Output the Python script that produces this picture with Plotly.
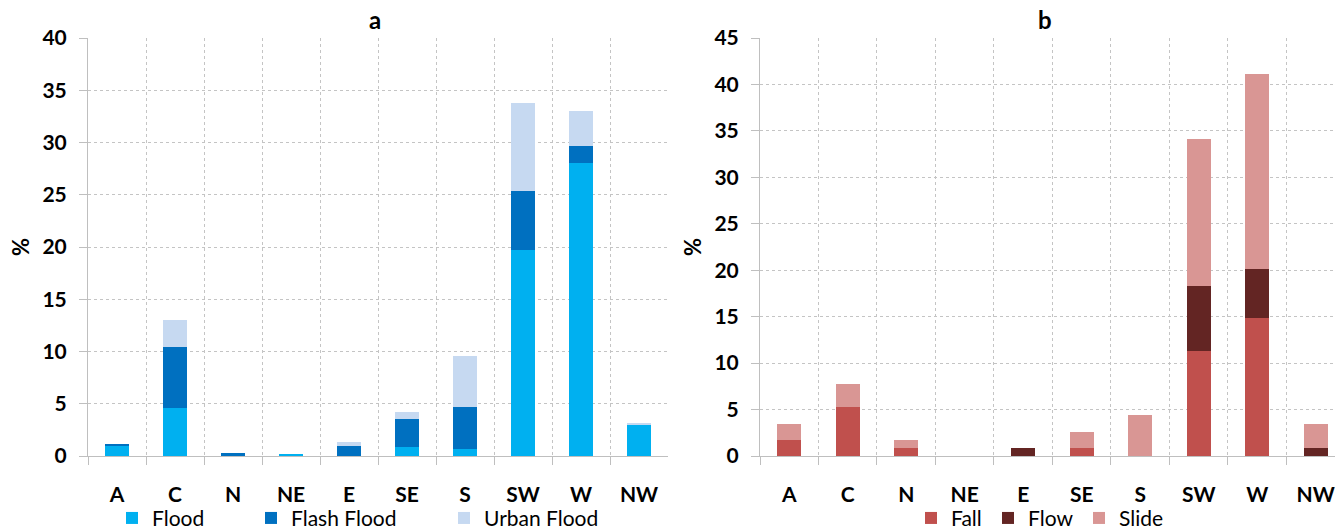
import plotly.graph_objects as go

categories = ["A", "C", "N", "NE", "E", "SE", "S", "SW", "W", "NW"]

flood = [1.0, 4.6, 0.0, 0.1, 0.0, 0.9, 0.7, 19.7, 28.0, 3.0]
flash_flood = [0.1, 5.8, 0.3, 0.0, 1.0, 2.6, 4.0, 5.7, 1.7, 0.0]
urban_flood = [0.0, 2.6, 0.0, 0.0, 0.3, 0.7, 4.9, 8.4, 3.3, 0.2]

fall = [1.7, 5.3, 0.85, 0.0, 0.0, 0.85, 0.0, 11.3, 14.9, 0.0]
flow = [0.0, 0.0, 0.0, 0.0, 0.85, 0.0, 0.0, 7.0, 5.2, 0.85]
slide = [1.7, 2.5, 0.85, 0.0, 0.0, 1.75, 4.4, 15.8, 21.0, 2.55]

FONT = "Lato, 'Open Sans', sans-serif"

W, H = 1335, 532
ml, mr, mt, mb = 0, 0, 38, 76

def px(x):
    return x / W

fig = go.Figure()

left = [("Flood", flood, "#00B0F0", 112), ("Flash Flood", flash_flood, "#0070C0", 251),
        ("Urban Flood", urban_flood, "#C6D9F1", 444)]
right = [("Fall", fall, "#C0504D", 911), ("Flow", flow, "#632523", 988),
         ("Slide", slide, "#D99694", 1079)]

legends = {}
i = 0
for (name, vals, col, lx), (xa, ya) in [(t, ("x", "y")) for t in left] + [(t, ("x2", "y2")) for t in right]:
    i += 1
    lname = "legend" if i == 1 else f"legend{i}"
    fig.add_trace(go.Bar(x=categories, y=vals, name=name, marker_color=col,
                         marker_line_width=0, xaxis=xa, yaxis=ya, legend=lname))
    legends[lname] = dict(orientation="h", x=px(lx), xanchor="left", y=-0.100, yanchor="top",
                          font=dict(family=FONT, size=21, color="#000000"), itemwidth=30,
                          bgcolor="rgba(0,0,0,0)")

grid = dict(showgrid=True, gridcolor="#C4C4C4", griddash="dot", gridwidth=1)
xcommon = dict(type="category", tickson="boundaries", ticks="outside", ticklen=8,
               tickcolor="#BFBFBF", showline=True, linecolor="#BFBFBF", linewidth=1,
               tickfont=dict(family=FONT, size=21, color="#000000", weight="bold"),
               ticklabelstandoff=20, fixedrange=True, automargin=False, **grid)
ycommon = dict(ticks="outside", ticklen=8, tickcolor="#BFBFBF", showline=True,
               linecolor="#BFBFBF", linewidth=1, zeroline=False, automargin=False,
               tickfont=dict(family=FONT, size=21, color="#000000", weight="bold"),
               ticklabelstandoff=8, fixedrange=True,
               title=dict(text="%", font=dict(family=FONT, size=22, color="#000000", weight="bold"),
                          standoff=6),
               **grid)

fig.update_layout(
    width=W, height=H,
    margin=dict(l=ml, r=mr, t=mt, b=mb, autoexpand=False),
    paper_bgcolor="white", plot_bgcolor="white",
    barmode="stack", bargap=0.59,
    font=dict(family=FONT, color="#000000"),
    xaxis=dict(domain=[px(88), px(668)], anchor="y", range=[-0.5, 9.5], **xcommon),
    yaxis=dict(domain=[0, 1], anchor="x", range=[0, 40], dtick=5, **ycommon),
    xaxis2=dict(domain=[px(760), 1.0], anchor="y2", range=[-0.5, 9.33], **xcommon),
    yaxis2=dict(domain=[0, 1], anchor="x2", range=[0, 45], dtick=5, **ycommon),
    annotations=[
        dict(text="<b>a</b>", x=px(375), y=1, xref="paper", yref="paper",
             xanchor="center", yanchor="bottom", yshift=2, showarrow=False,
             font=dict(family=FONT, size=24, color="#000000")),
        dict(text="<b>b</b>", x=px(1045), y=1, xref="paper", yref="paper",
             xanchor="center", yanchor="bottom", yshift=2, showarrow=False,
             font=dict(family=FONT, size=24, color="#000000")),
    ],
    showlegend=True,
    **legends,
)

fig.write_html("out.html", config={"displayModeBar": False},
               post_script="document.body.style.margin='0';document.body.style.padding='0';"
                           "document.body.style.overflow='hidden';")
